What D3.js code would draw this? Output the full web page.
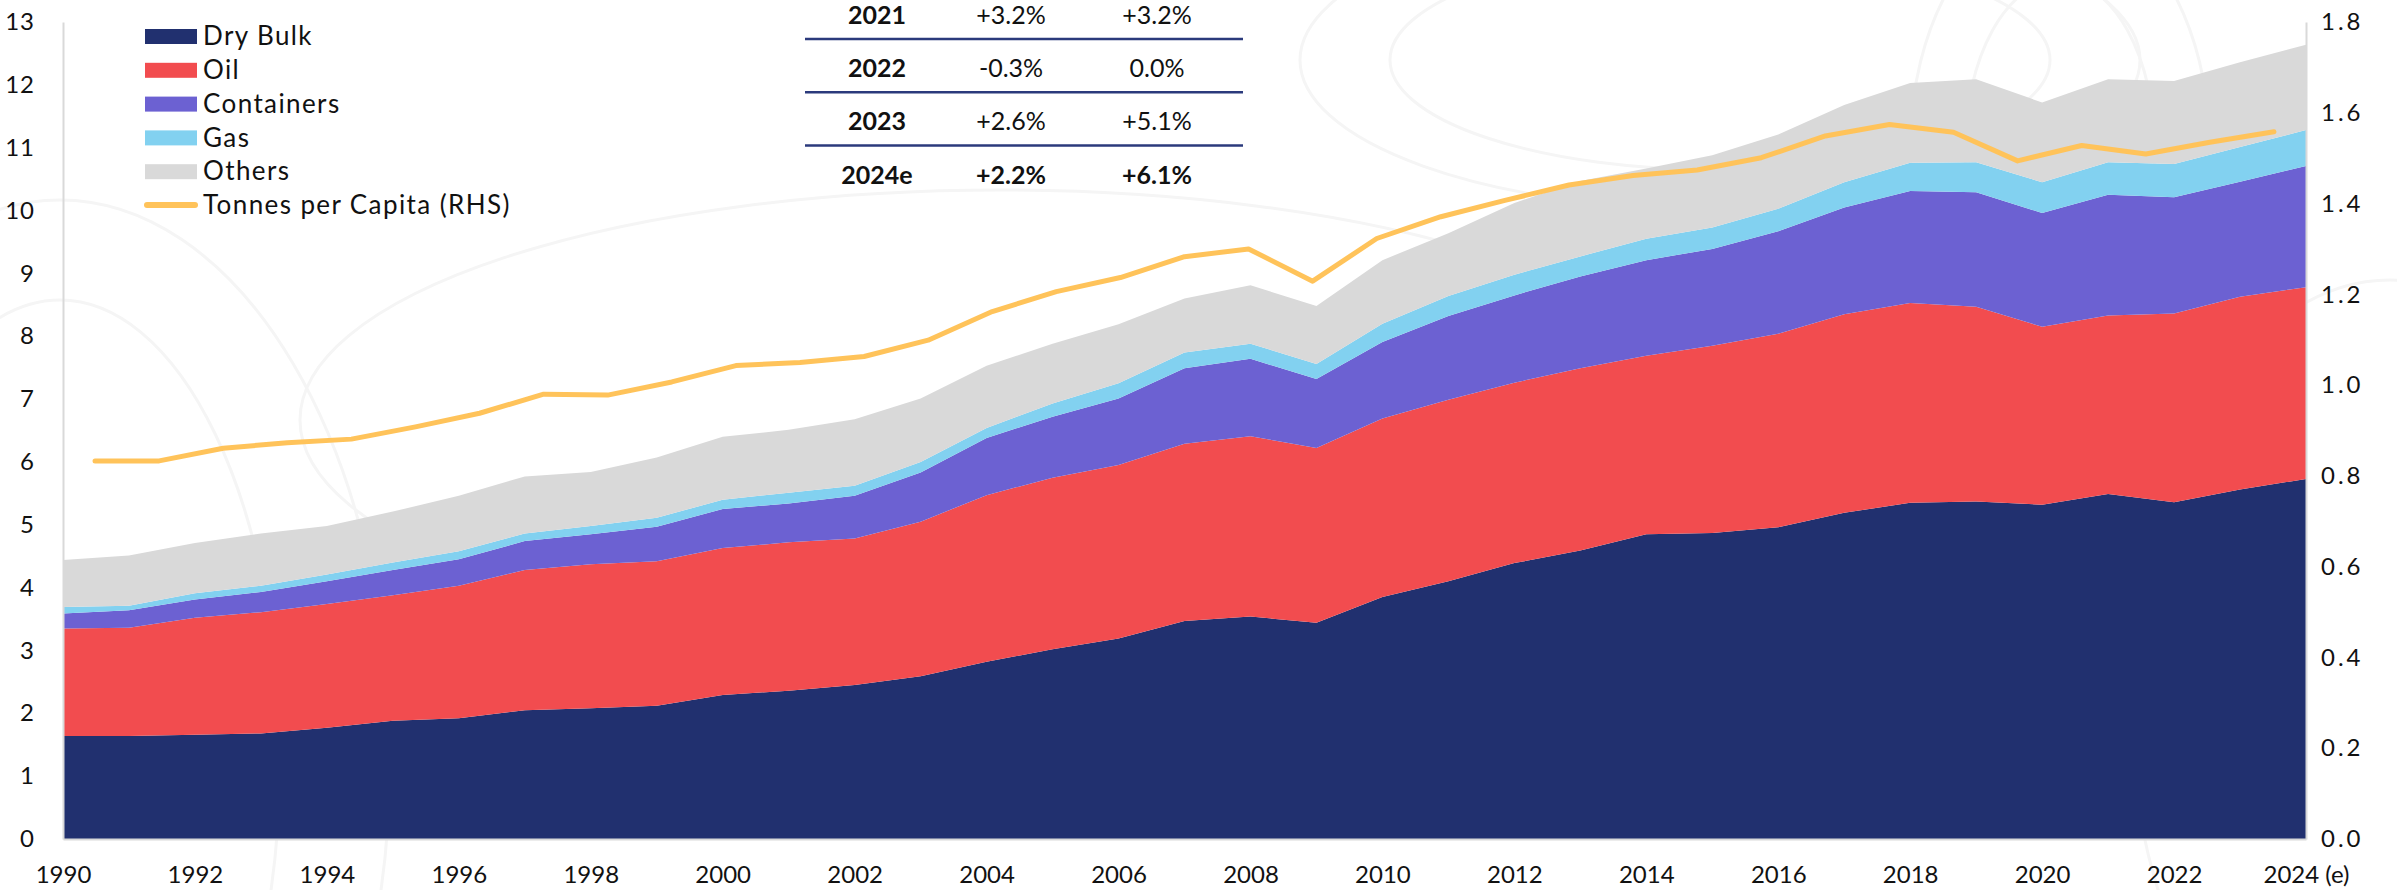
<!DOCTYPE html>
<html>
<head>
<meta charset="utf-8">
<script src="https://cdn.jsdelivr.net/npm/d3@7"></script>
<style>
  body { margin: 0; background: #fff; }
  svg { display: block; font-family: Lato, "Open Sans", sans-serif; }
</style>
</head>
<body>
<div id="chart"></div>
<script>
var years = [1990,1991,1992,1993,1994,1995,1996,1997,1998,1999,2000,2001,2002,2003,2004,2005,2006,2007,2008,2009,2010,2011,2012,2013,2014,2015,2016,2017,2018,2019,2020,2021,2022,2023,2024];
// billion tonnes
var dryBulk    = [1.64,1.64,1.66,1.68,1.77,1.88,1.92,2.05,2.08,2.12,2.29,2.36,2.45,2.59,2.82,3.02,3.19,3.47,3.54,3.44,3.85,4.10,4.39,4.59,4.85,4.87,4.96,5.19,5.35,5.37,5.32,5.49,5.36,5.56,5.73];
var oil        = [1.71,1.72,1.86,1.93,1.97,2.00,2.11,2.23,2.29,2.30,2.34,2.36,2.33,2.46,2.65,2.73,2.76,2.82,2.87,2.78,2.84,2.89,2.87,2.90,2.84,2.98,3.08,3.16,3.18,3.10,2.83,2.84,3.00,3.07,3.05];
var containers = [0.24,0.28,0.29,0.32,0.36,0.40,0.42,0.46,0.48,0.55,0.62,0.62,0.68,0.78,0.91,0.97,1.06,1.20,1.23,1.10,1.22,1.33,1.39,1.46,1.52,1.54,1.63,1.70,1.78,1.82,1.81,1.92,1.85,1.83,1.93];
var gas        = [0.10,0.07,0.10,0.10,0.11,0.12,0.13,0.12,0.13,0.14,0.15,0.17,0.16,0.17,0.16,0.21,0.24,0.25,0.24,0.24,0.29,0.32,0.33,0.32,0.34,0.34,0.36,0.40,0.45,0.48,0.49,0.52,0.53,0.55,0.57];
var others     = [0.75,0.80,0.80,0.83,0.77,0.81,0.88,0.91,0.86,0.96,1.00,1.00,1.06,1.01,0.99,0.95,0.94,0.86,0.93,0.92,1.01,1.00,1.14,1.20,1.12,1.15,1.18,1.23,1.27,1.32,1.27,1.32,1.32,1.35,1.36];
var perCapita  = [0.833,0.833,0.861,0.873,0.881,0.908,0.938,0.980,0.978,1.007,1.043,1.050,1.063,1.099,1.162,1.206,1.237,1.283,1.300,1.229,1.323,1.371,1.407,1.441,1.462,1.474,1.501,1.549,1.574,1.557,1.494,1.528,1.509,1.535,1.558];

var seriesNames = ["Dry Bulk","Oil","Containers","Gas","Others"];
var lineName = "Tonnes per Capita (RHS)";
var leftTicks = [0,1,2,3,4,5,6,7,8,9,10,11,12,13];
var rightTicks = [0,0.2,0.4,0.6,0.8,1.0,1.2,1.4,1.6,1.8];
var xTicks = [1990,1992,1994,1996,1998,2000,2002,2004,2006,2008,2010,2012,2014,2016,2018,2020,2022,2024];

var tableYears = ["2021","2022","2023","2024e"];
var tableCol1  = ["+3.2%","-0.3%","+2.6%","+2.2%"];
var tableCol2  = ["+3.2%","0.0%","+5.1%","+6.1%"];

var colors = ["#21306f","#f24c4f","#6c61d2","#82d1f0","#d9d9d9"];
var lineColor = "#ffc35a";

var W = 2397, H = 890;
var plotLeft = 63, plotRight = 2306, plotTop = 22, plotBottom = 839;

var svg = d3.select("#chart").append("svg")
  .attr("width", W).attr("height", H);

// faint contour watermark
var wm = svg.append("g").attr("fill", "none").attr("stroke", "#f5f5f5").attr("stroke-width", 3);
[[1720,60,420,150],[1720,60,330,110],[2060,150,150,240],[2060,150,95,170],
 [1000,420,700,230],[60,760,330,560],[60,760,220,460],[2390,700,260,420]]
  .forEach(function(e){
    wm.append("ellipse").attr("cx", e[0]).attr("cy", e[1]).attr("rx", e[2]).attr("ry", e[3]);
  });

var x = d3.scaleLinear().domain([1990, 2024]).range([plotLeft, plotRight]);
var xLine = d3.scaleBand().domain(years).range([plotLeft, plotRight]);
var y = d3.scaleLinear().domain([0, 13]).range([plotBottom, plotTop]);
var y2 = d3.scaleLinear().domain([0, 1.8]).range([plotBottom, plotTop]);

var rows = years.map(function(yr, i){
  return {year: yr, "Dry Bulk": dryBulk[i], "Oil": oil[i], "Containers": containers[i], "Gas": gas[i], "Others": others[i]};
});
var stacked = d3.stack().keys(seriesNames)(rows);

var area = d3.area()
  .x(function(d){ return x(d.data.year); })
  .y0(function(d){ return y(d[0]); })
  .y1(function(d){ return y(d[1]); });

svg.append("g").selectAll("path")
  .data(stacked)
  .enter().append("path")
  .attr("d", area)
  .attr("fill", function(d, i){ return colors[i]; });

var line = d3.line()
  .x(function(d, i){ return xLine(years[i]) + xLine.bandwidth() / 2; })
  .y(function(d){ return y2(d); });

svg.append("path")
  .datum(perCapita)
  .attr("d", line)
  .attr("fill", "none")
  .attr("stroke", lineColor)
  .attr("stroke-width", 5)
  .attr("stroke-linecap", "round")
  .attr("stroke-linejoin", "round");

// axes
var axL = svg.append("g").attr("transform", "translate(" + plotLeft + ",0)")
  .call(d3.axisLeft(y).tickValues(leftTicks).tickSize(0).tickPadding(28));
var axR = svg.append("g").attr("transform", "translate(" + plotRight + ",0)")
  .call(d3.axisRight(y2).tickValues(rightTicks).tickFormat(d3.format(".1f")).tickSize(0).tickPadding(15));
var axB = svg.append("g").attr("transform", "translate(0," + plotBottom + ")")
  .call(d3.axisBottom(x).tickValues(xTicks).tickSize(0).tickPadding(27)
    .tickFormat(function(d){ return d === 2024 ? "2024 (e)" : d; }));

[axL, axR, axB].forEach(function(a){
  a.select(".domain").attr("stroke", "#d9d9d9").attr("stroke-width", 2);
  a.selectAll("text").attr("fill", "#111").style("font-size", "24px")
    .style("font-family", "Lato, sans-serif");
});
axR.selectAll("text").style("letter-spacing", "3px");
axL.selectAll("text").style("letter-spacing", "1px");

// legend
var lg = svg.append("g").attr("transform", "translate(145,36)");
seriesNames.concat([lineName]).forEach(function(name, i){
  var g = lg.append("g").attr("transform", "translate(0," + (i * 33.8) + ")");
  if (i < seriesNames.length) {
    g.append("rect").attr("x", 0).attr("y", -7).attr("width", 52).attr("height", 15).attr("fill", colors[i]);
  } else {
    g.append("line").attr("x1", 2).attr("x2", 50).attr("y1", 0).attr("y2", 0)
      .attr("stroke", lineColor).attr("stroke-width", 6).attr("stroke-linecap", "round");
  }
  g.append("text").attr("x", 58).attr("y", 0).attr("dy", "0.35em")
    .style("font-size", "26px").style("letter-spacing", "1.4px").attr("fill", "#111").text(name);
});

// growth table
var tb = svg.append("g");
tableYears.forEach(function(yr, i){
  var by = 24 + i * 53.2;
  var last = i === tableYears.length - 1;
  tb.append("text").attr("x", 877).attr("y", by).attr("text-anchor", "middle")
    .style("font-size", "25px").style("font-weight", "bold").attr("fill", "#111").text(yr);
  tb.append("text").attr("x", 1011).attr("y", by).attr("text-anchor", "middle")
    .style("font-size", "25px").style("font-weight", last ? "bold" : "normal").attr("fill", "#111").text(tableCol1[i]);
  tb.append("text").attr("x", 1157).attr("y", by).attr("text-anchor", "middle")
    .style("font-size", "25px").style("font-weight", last ? "bold" : "normal").attr("fill", "#111").text(tableCol2[i]);
  if (!last) {
    tb.append("line").attr("x1", 805).attr("x2", 1243).attr("y1", by + 15).attr("y2", by + 15)
      .attr("stroke", "#2b3a7c").attr("stroke-width", 2.5);
  }
});
</script>
</body>
</html>
